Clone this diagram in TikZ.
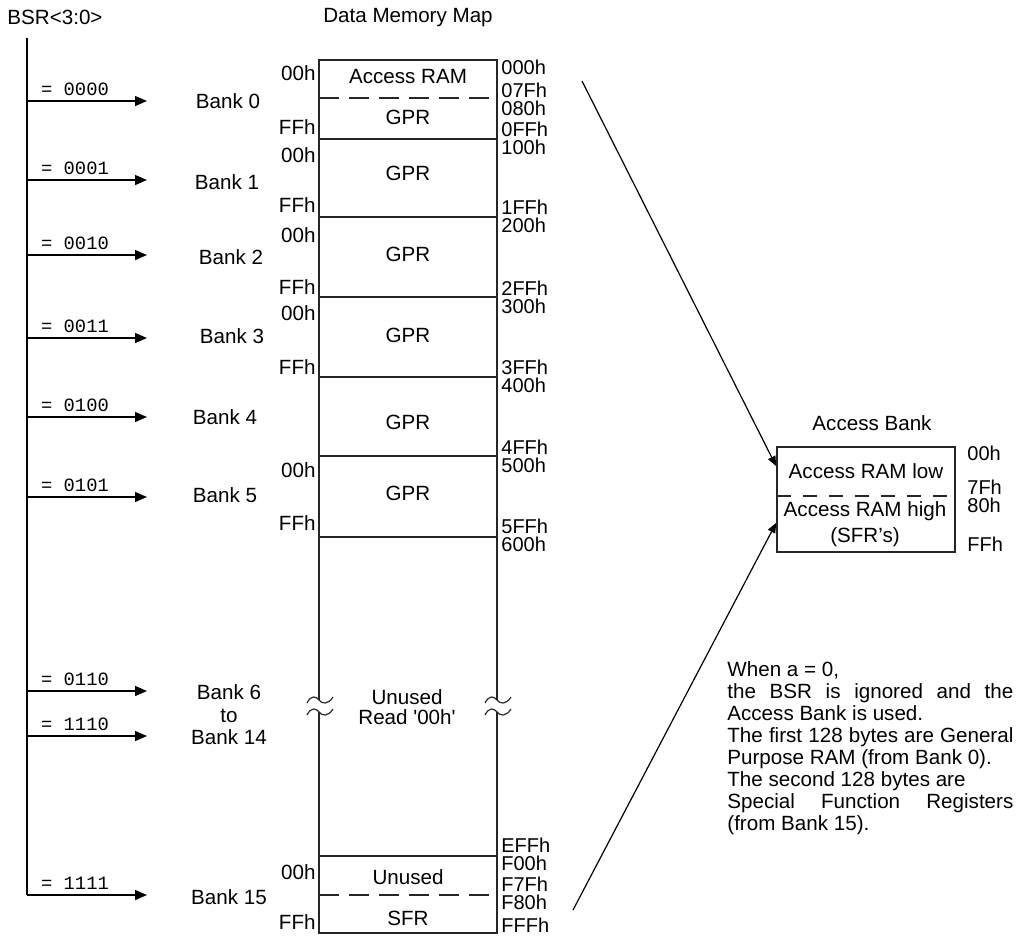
\documentclass[tikz,border=0pt]{standalone}
\usepackage{fontspec}
\setmainfont{Liberation Sans}
\setmonofont{Liberation Mono}
\usetikzlibrary{arrows.meta,positioning,calc}
\newcommand{\fullline}[1]{\makebox[143pt][s]{#1}}

\begin{document}
\begin{tikzpicture}[x=0.5pt, y=-0.5pt,
  txt/.style={font=\fontsize{10.3}{11}\selectfont, inner sep=0pt},
  adr/.style={font=\fontsize{10}{11}\selectfont, inner sep=0pt},
  sel/.style={font=\fontsize{9.4}{10}\selectfont\ttfamily, inner sep=0pt},
  wall/.style={line width=0.8pt, draw=black!85},
  split/.style={line width=0.7pt, draw=black!85, dash pattern=on 10pt off 5pt},
  arr/.style={-{Triangle[length=6pt, width=5pt]}, line width=0.65pt},
  ptr/.style={-{Triangle[length=5pt, width=4pt]}, line width=0.6pt}]

\useasboundingbox (0,0) rectangle (1018,938);

\node[txt] (bsr) at (55,17) {BSR<3:0>};
\node[txt] (title) at (408,18) {Data Memory Map};

% bank select bus
\coordinate (bustop) at (27,38);
\foreach \code/\ya in {0000/101,0001/180,0010/255,0011/338,0100/417,0101/497,0110/691,1110/736,1111/895}{
  \coordinate (s\code) at (27,\ya);
  \coordinate (t\code) at (147,\ya);
  \draw[arr] (s\code) -- node[sel, pos=0.4, above=2.5pt] {= \code} (t\code);
}
\draw[line width=0.65pt] (bustop) -- (s1111);

\node[txt] (bank0) at (228,101) {Bank 0};
\node[txt] (bank1) at (227,182) {Bank 1};
\node[txt] (bank2) at (231,257) {Bank 2};
\node[txt] (bank3) at (232,336) {Bank 3};
\node[txt] (bank4) at (225,417) {Bank 4};
\node[txt] (bank5) at (225,495) {Bank 5};
\node[txt, align=center, font=\fontsize{10.3}{11.3}\selectfont] (bank6) at (229,715) {Bank 6\\to\\Bank 14};
\node[txt] (bank15) at (229,897) {Bank 15};

% data memory map
\draw[wall] (319,700) -- (319,60) -- (497,60) -- (497,700);
\draw[wall] (319,712) -- (319,933) -- (497,933) -- (497,712);
\foreach \y in {139,217,297,377,456,537,856}
  \draw[wall] (319,\y) -- (497,\y);
\foreach \y in {98,895}
  \draw[split] (319,\y) -- (497,\y);
\foreach \bx in {319,497}
  \foreach \by in {700,712}
    \draw[wall, line width=0.6pt] ({\bx-12},{\by+3}) .. controls ({\bx-8},{\by-5}) and ({\bx-3},{\by-4}) .. (\bx,\by)
      .. controls ({\bx+3},{\by+4}) and ({\bx+9},{\by+5}) .. ({\bx+14},{\by-3});

\node[txt] (accram) at (408,77) {Access RAM};
\node[txt] (gpr0) at (408,117) {GPR};
\node[txt] (gpr1) at (408,173) {GPR};
\node[txt] (gpr2) at (408,254) {GPR};
\node[txt] (gpr3) at (408,335) {GPR};
\node[txt] (gpr4) at (408,422) {GPR};
\node[txt] (gpr5) at (408,493) {GPR};
\node[txt, align=center, font=\fontsize{10.3}{10.3}\selectfont] (unused) at (407,707) {Unused\\Read \textquotesingle 00h\textquotesingle};
\node[txt] (unused15) at (408,877) {Unused};
\node[txt] (sfr) at (408,918) {SFR};

\foreach \lab/\y [count=\i] in {00h/73,FFh/127,00h/155,FFh/205,00h/235,FFh/287,00h/313,FFh/367,00h/470,FFh/523,00h/872,FFh/922}
  \node[txt, anchor=east] (off\i) at (316,\y) {\lab};
\foreach \lab/\y [count=\i] in {000h/67,07Fh/90,080h/108,0FFh/129,100h/147,1FFh/207,200h/225,2FFh/288,300h/306,3FFh/367,400h/385,4FFh/447,500h/465,5FFh/526,600h/544,EFFh/845,F00h/863,F7Fh/884,F80h/902,FFFh/925}
  \node[adr, anchor=west] (adr\i) at (501,\y) {\lab};

% access bank
\node[txt] (abtitle) at (872,423) {Access Bank};
\node[wall, draw, minimum width=89pt, minimum height=52.5pt, inner sep=0pt] (abank) at (866,499.5) {};
\draw[split, dash pattern=on 7pt off 6pt] (777,496) -- (957,496);
\node[txt] (arlow) at (866,471) {Access RAM low};
\node[txt, align=center, font=\fontsize{10.3}{13}\selectfont] (arhigh) at (865,524) {Access RAM high\\(SFR's)};
\foreach \lab/\y [count=\i] in {00h/453,7Fh/487,80h/505,FFh/544}
  \node[adr, anchor=west] (ab\i) at (967,\y) {\lab};

\coordinate (fromacc) at (582,81);
\coordinate (fromsfr) at (573,910);
\draw[ptr] (fromacc) -- ($(abank.north west)+(0,20)$);
\draw[ptr] (fromsfr) -- ($(abank.south west)+(0,-30)$);

\node[txt, anchor=north west, align=left] (note) at (727,661) {When a = 0,\\
  \fullline{the BSR is ignored and the}\\
  Access Bank is used.\\
  \fullline{The first 128 bytes are General}\\
  Purpose RAM (from Bank 0).\\
  The second 128 bytes are\\
  \fullline{Special Function Registers}\\
  (from Bank 15).};
\end{tikzpicture}
\end{document}
